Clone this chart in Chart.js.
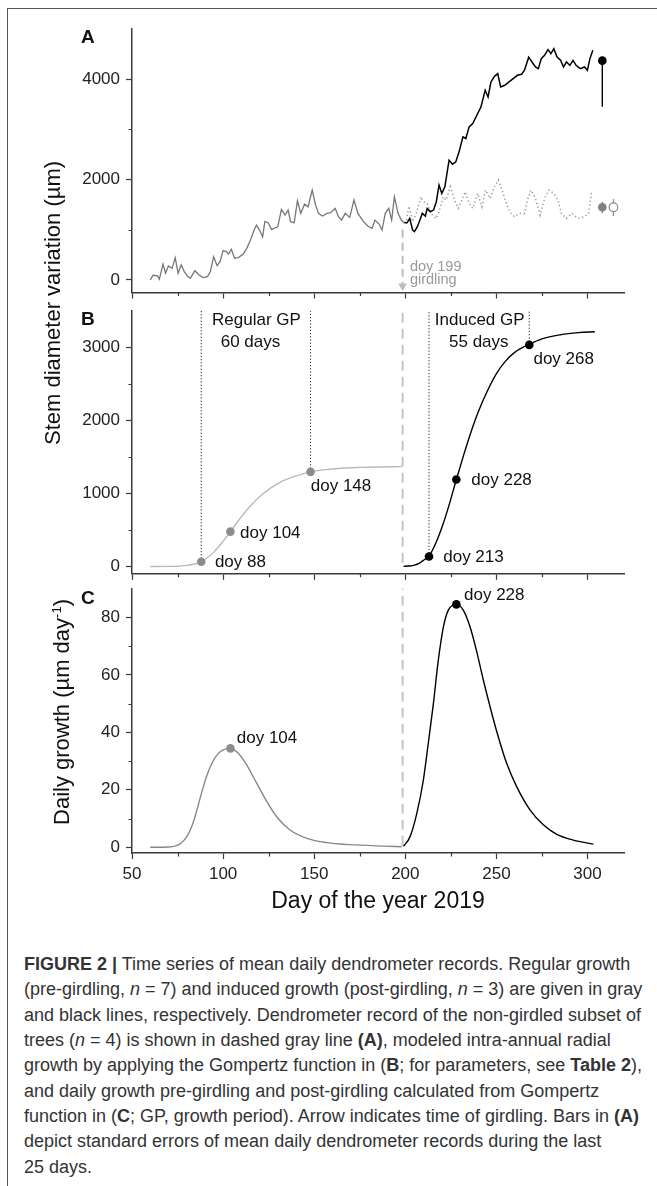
<!DOCTYPE html>
<html lang="en">
<head>
<meta charset="UTF-8">
<title>Figure 2 - dendrometer records</title>
<script src="https://cdn.jsdelivr.net/npm/chart.js@4.4.0/dist/chart.umd.min.js"></script>
<style>
  body { margin: 0; background: #fff; font-family: "Liberation Sans", Arial, sans-serif; color: #222; }
  #page { position: relative; width: 657px; height: 1186px; overflow: hidden; }
  .frame { position: absolute; left: 7px; top: 8px; width: 700px; height: 1200px;
           border-top: 1.5px solid #555; border-left: 1.5px solid #555; }
  .panel { position: absolute; left: 0; }
  .letter { position: absolute; left: 81px; font-weight: bold; font-size: 19px; line-height: 19px; color: #111; }
  .ytitle { position: absolute; font-size: 22px; line-height: 22px; white-space: nowrap; color: #111;
            transform: translate(-50%, -50%) rotate(-90deg); }
  .ytitle sup { font-size: 13px; vertical-align: 8px; line-height: 0; }
  .xtitle { position: absolute; left: 378px; top: 889px; transform: translateX(-50%);
            font-size: 23px; line-height: 23px; white-space: nowrap; color: #111; }
  .caption { position: absolute; left: 24px; top: 952px; font-size: 18px; line-height: 25.35px; color: #333; }
  .caption div { white-space: nowrap; }
</style>
</head>
<body>
<div id="page">
  <div class="frame"></div>

  <div class="panel" style="top:0px"><canvas id="chartA" width="657" height="310"></canvas></div>
  <div class="panel" style="top:290px"><canvas id="chartB" width="657" height="300"></canvas></div>
  <div class="panel" style="top:570px"><canvas id="chartC" width="657" height="340"></canvas></div>

  <div class="letter" style="top:27px">A</div>
  <div class="letter" style="top:309px">B</div>
  <div class="letter" style="top:588px">C</div>

  <div class="ytitle" style="left:53px; top:303px">Stem diameter variation (µm)</div>
  <div class="ytitle" style="left:62px; top:712px">Daily growth (µm day<sup>-1</sup>)</div>
  <div class="xtitle">Day of the year 2019</div>

  <div class="caption">
    <div><b>FIGURE 2 |</b> Time series of mean daily dendrometer records. Regular growth</div>
    <div>(pre-girdling, <i>n</i> = 7) and induced growth (post-girdling, <i>n</i> = 3) are given in gray</div>
    <div>and black lines, respectively. Dendrometer record of the non-girdled subset of</div>
    <div>trees (<i>n</i> = 4) is shown in dashed gray line <b>(A)</b>, modeled intra-annual radial</div>
    <div>growth by applying the Gompertz function in (<b>B</b>; for parameters, see <b>Table 2</b>),</div>
    <div>and daily growth pre-girdling and post-girdling calculated from Gompertz</div>
    <div>function in (<b>C</b>; GP, growth period). Arrow indicates time of girdling. Bars in <b>(A)</b></div>
    <div>depict standard errors of mean daily dendrometer records during the last</div>
    <div>25 days.</div>
  </div>
</div>

<script>
const FONT = '"Liberation Sans", Arial, sans-serif';

// shared x axis (day of year)
const xMajor = [50, 100, 150, 200, 250, 300];
const xMinor = [75, 125, 175, 225, 275];
const girdlingDoy = 198.5;

// panel A: mean daily dendrometer records (µm)
const regDoyA = [60,61.5,64,65,67,68.4,70,72,73.7,75.3,77,78.7,80.6,82,84.5,86.8,89,91.4,93,94.8,
  96.7,98.3,100,101.7,103,104.5,106.3,108.6,111,113,115,117,118.3,120,121.7,122.9,124.7,126.6,128,130,
  132,134,135.7,137,139,140.8,142.6,144.7,146.6,148.9,150.5,152.3,154.6,157,159,161.5,163.3,165,167,169.5,
  171.8,174,177,179.4,181.7,183.3,185.6,187.2,189,190.9,192.5,194,196,197.8,199.4];
const regUmA = [0,93,80,13,318,133,279,232,444,133,300,166,66,33,186,100,46,66,166,464,
  285,365,584,564,517,610,431,451,517,630,796,995,1094,995,862,1161,1141,1008,1028,1061,
  1406,1293,1393,1161,1141,1579,1327,1512,1459,1791,1526,1327,1274,1327,1340,1426,1260,1194,1327,1247,
  1592,1327,1161,1074,1028,1194,1114,995,1327,1426,1194,1658,1327,1194,1141];
const indDoyA = [199.4,201,202.4,204,205,206.6,208,209.3,211,212,213.7,215.5,217,218.5,220,221.7,224,225.9,227.7,229.5,
  231.6,233.2,235,237,239.7,241.5,243.8,245.4,247,248.9,250.7,252.3,254.6,256.9,259.2,261.5,263.8,265.4,267.7,269.5,
  271.4,273,274.6,276.4,278.3,279.9,281.5,283.3,285.2,286.8,288.4,290.3,292,293.7,296,298.3,299.9,301.3,302.9];
const indUmA = [1141,1141,1227,995,962,1061,1194,1327,1274,1426,1360,1393,1559,1890,1725,1857,2388,2308,2355,2554,
  2852,2819,3051,3118,3317,3449,3781,3648,3947,4059,4112,3847,3880,3947,4013,4079,4100,4180,4440,4345,
  4245,4212,4411,4478,4590,4511,4610,4444,4378,4245,4345,4278,4378,4278,4212,4245,4179,4411,4577];
const ctlDoyA = [200.6,202,204,206,208.6,210,212,214,217,219,220.8,222.4,224.7,227,229,231,232.8,235,237,239.7,
  242,244,246.6,248.4,251,253.4,255.7,258,260,262.6,265.4,267,269,271.4,274,276.4,278.7,281.5,283.8,285.6,
  288.4,291.4,294.8,298.3,300.6,302.2];
const ctlUmA = [1194,1472,1161,1327,1658,1559,1526,1327,1227,1426,1658,1592,1857,1592,1426,1592,1758,1526,1426,1725,
  1459,1791,1625,1824,1990,1758,1492,1327,1260,1327,1327,1592,1791,1625,1293,1625,1791,1725,1592,1327,
  1227,1327,1227,1260,1327,1758];
// last-25-day means with standard errors: [doy, mean, low, high]
const seInduced = [308.1, 4371, 3454, 4371];
const seRegular = [308.1, 1449, 1329, 1561];
const seControl = [314.2, 1449, 1276, 1614];
const yMajorA = [0, 2000, 4000];
const yMinorA = [1000, 3000];

// panel B: Gompertz fits (µm)
const regDoyB = [60,70,75,80,85,88,90,95,100,104,110,115,120,125,130,135,140,148,155,165,175,185,198];
const regUmB = [0,1,4,15,38,64,95,200,345,477,680,830,955,1055,1135,1195,1240,1295,1322,1345,1356,1362,1366];
const indDoyB = [199,202,205,208,210,213,216,220,224,228,232,236,240,245,250,255,260,268,275,285,295,304];
const indUmB = [2,6,18,50,85,145,280,530,840,1191,1524,1837,2114,2401,2640,2810,2930,3040,3115,3170,3200,3212];
const regMarkDoyB = [88, 104, 148];
const regMarkUmB = [64, 477, 1295];
const indMarkDoyB = [213, 228, 268];
const indMarkUmB = [136, 1191, 3032];
const yMajorB = [0, 1000, 2000, 3000];
const yMinorB = [500, 1500, 2500];

// panel C: daily growth (µm day-1)
const regDoyC = [60,70,74,77,80,83,85,88,91,94,97,100,104,108.3,113,118.4,124,129.4,136.7,146,157,169.6,188,198];
const regGrC = [0,0.1,0.5,1.5,3.6,7.6,11.5,18.5,24.8,29.4,32.4,33.9,34.4,32.7,28.6,22.3,15.9,10.6,6,3.1,1.6,0.9,0.4,0.2];
const indDoyC = [199,202.6,206.3,209.9,212.6,215.4,218.1,220.9,223.6,228,231.8,235.5,239.2,242.8,246.5,250.2,
  255.6,261.1,268.4,275.7,283.1,292.2,303.2];
const indGrC = [0.3,3.7,11.8,23.4,36.2,50,65.1,76.7,82.5,84.5,82.5,76.7,68,58.2,48.9,40.2,29.2,21.1,13,7.8,4.5,2.5,1.1];
const yMajorC = [0, 20, 40, 60, 80];
const yMinorC = [10, 30, 50, 70];

const AXIS = '#3a3a3a';
const pts = (xs, ys) => xs.map((x, i) => ({x: x, y: ys[i]}));

function axes(yMin, yMax, yMajor, xLabels, xHeight) {
  const tickFont = {family: FONT, size: 17};
  return {
    x: {
      type: 'linear', min: 50, max: 320,
      afterBuildTicks: s => { s.ticks = xMajor.map(v => ({value: v})); },
      afterFit: s => { s.height = xHeight; },
      ticks: {display: xLabels, autoSkip: false, maxRotation: 0, color: '#222', font: tickFont, padding: 5,
              callback: v => String(v)},
      grid: {drawOnChartArea: false, tickLength: 6, tickColor: AXIS, tickWidth: 1.2},
      border: {color: AXIS, width: 1.5}
    },
    y: {
      type: 'linear', min: yMin, max: yMax,
      afterBuildTicks: s => { s.ticks = yMajor.map(v => ({value: v})); },
      afterFit: s => { s.width = 132; },
      ticks: {autoSkip: false, color: '#222', font: tickFont, padding: 6, callback: v => String(v)},
      grid: {drawOnChartArea: false, tickLength: 6, tickColor: AXIS, tickWidth: 1.2},
      border: {color: AXIS, width: 1.5}
    }
  };
}

// text labels placed in data units + short minor ticks
function extras(notes, yMinor) {
  return {
    id: 'extras',
    afterDraw(chart) {
      const {ctx} = chart;
      const x = chart.scales.x, y = chart.scales.y;
      ctx.save();
      ctx.strokeStyle = AXIS;
      ctx.lineWidth = 1.2;
      ctx.beginPath();
      xMinor.forEach(v => {
        const px = Math.round(x.getPixelForValue(v)) + 0.5;
        ctx.moveTo(px, x.top); ctx.lineTo(px, x.top + 3.5);
      });
      yMinor.forEach(v => {
        const py = Math.round(y.getPixelForValue(v)) + 0.5;
        ctx.moveTo(y.right, py); ctx.lineTo(y.right - 3.5, py);
      });
      ctx.stroke();
      ctx.textBaseline = 'middle';
      notes.forEach(n => {
        ctx.font = (n.size || 17) + 'px ' + FONT;
        ctx.fillStyle = n.color || '#111';
        ctx.textAlign = n.align || 'left';
        ctx.fillText(n.text, x.getPixelForValue(n.x), y.getPixelForValue(n.y));
      });
      ctx.restore();
    }
  };
}

function line(data, color, width, extra) {
  return Object.assign({data: data, borderColor: color, borderWidth: width, pointRadius: 0,
    fill: false, tension: 0}, extra || {});
}
function dots(data, color, extra) {
  return Object.assign({data: data, showLine: false, pointRadius: 4.3, pointBackgroundColor: color,
    pointBorderColor: color, pointBorderWidth: 0, pointHoverRadius: 4.3}, extra || {});
}
function vline(xv, y0, y1, color, width, dash, extra) {
  return line([{x: xv, y: y0}, {x: xv, y: y1}], color, width, Object.assign({borderDash: dash}, extra || {}));
}

function build(id, datasets, scales, padding, plugin) {
  return new Chart(document.getElementById(id), {
    type: 'line',
    data: {datasets: datasets},
    options: {
      responsive: false, animation: false, events: [],
      layout: {padding: padding},
      plugins: {legend: {display: false}, tooltip: {enabled: false}},
      scales: scales
    },
    plugins: [plugin]
  });
}

// ---------- A ----------
build('chartA', [
  dots([{x: seInduced[0], y: seInduced[1]}], '#000'),
  dots([{x: seRegular[0], y: seRegular[1]}], '#808080'),
  dots([{x: seControl[0], y: seControl[1]}], '#fff', {pointBorderColor: '#8a8a8a', pointBorderWidth: 1.2}),
  vline(seInduced[0], seInduced[2], seInduced[3], '#000', 1.4, []),
  vline(seRegular[0], seRegular[2], seRegular[3], '#808080', 1.2, []),
  vline(seControl[0], seControl[2], seControl[3], '#8a8a8a', 1.2, []),
  line(pts(indDoyA, indUmA), '#000', 1.5),
  line(pts(regDoyA, regUmA), '#777', 1.3),
  line(pts(ctlDoyA, ctlUmA), '#9a9a9a', 1.5, {borderDash: [1.3, 2.6]}),
  vline(girdlingDoy, 1000, -120, '#bdbdbd', 2, [8, 5],
        {pointRadius: [0, 5], pointStyle: 'triangle', rotation: 180,
         pointBackgroundColor: '#bdbdbd', pointBorderColor: '#bdbdbd', pointBorderWidth: 0}),
], axes(-250, 5000, yMajorA, false, 17.5), {top: 29.1, right: 33, bottom: 0, left: 0},
extras([
  {x: 202.5, y: 265, text: 'doy 199', size: 14.5, color: '#999'},
  {x: 202.5, y: 0, text: 'girdling', size: 14.5, color: '#999'}
], yMinorA));

// ---------- B ----------
build('chartB', [
  dots(pts(indMarkDoyB, indMarkUmB), '#000'),
  dots(pts(regMarkDoyB, regMarkUmB), '#8c8c8c'),
  line(pts(indDoyB, indUmB), '#000', 1.4, {cubicInterpolationMode: 'monotone'}),
  line(pts(regDoyB, regUmB), '#bababa', 1.4, {cubicInterpolationMode: 'monotone'}),
  vline(regMarkDoyB[0], regMarkUmB[0], 3500, '#222', 1, [1.2, 2]),
  vline(regMarkDoyB[2], regMarkUmB[2], 3500, '#222', 1, [1.2, 2]),
  vline(indMarkDoyB[0], indMarkUmB[0], 3500, '#222', 1, [1.2, 2]),
  vline(indMarkDoyB[2], indMarkUmB[2], 3500, '#222', 1, [1.2, 2]),
  vline(girdlingDoy, 50, 3500, '#c4c4c4', 2, [10, 6]),
], axes(-100, 3500, yMajorB, false, 15.4), {top: 20.7, right: 33, bottom: 0, left: 0},
extras([
  {x: 118.3, y: 3374, text: 'Regular GP', align: 'center'},
  {x: 115, y: 3070, text: '60 days', align: 'center'},
  {x: 240.8, y: 3374, text: 'Induced GP', align: 'center'},
  {x: 240.3, y: 3074, text: '55 days', align: 'center'},
  {x: 95.5, y: 55, text: 'doy 88'},
  {x: 109.3, y: 454, text: 'doy 104'},
  {x: 148.1, y: 1091, text: 'doy 148'},
  {x: 220.8, y: 123, text: 'doy 213'},
  {x: 236.2, y: 1181, text: 'doy 228'},
  {x: 270.3, y: 2828, text: 'doy 268'}
], yMinorB));

// ---------- C ----------
build('chartC', [
  dots([{x: 228, y: 84.5}], '#000'),
  dots([{x: 104, y: 34.4}], '#8c8c8c'),
  line(pts(indDoyC, indGrC), '#000', 1.4, {cubicInterpolationMode: 'monotone'}),
  line(pts(regDoyC, regGrC), '#888', 1.4, {cubicInterpolationMode: 'monotone'}),
  vline(girdlingDoy, 0.5, 90, '#c4c4c4', 2, [10, 6]),
], axes(-2, 90, yMajorC, true, 57), {top: 18.6, right: 33, bottom: 0, left: 0},
extras([
  {x: 107.5, y: 37.8, text: 'doy 104'},
  {x: 232.2, y: 87.8, text: 'doy 228'}
], yMinorC));
</script>
</body>
</html>
